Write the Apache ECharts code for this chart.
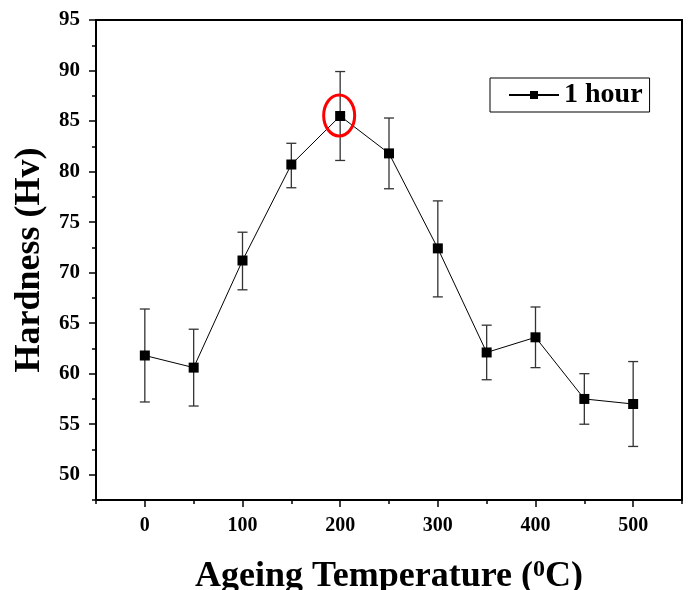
<!DOCTYPE html>
<html>
<head>
    <meta charset="utf-8">
    <title>Hardness vs Ageing Temperature</title>
    <script src="https://cdn.jsdelivr.net/npm/echarts@6/dist/echarts.min.js"></script>
    <style>
        body { margin: 0; background: #fff; }
    </style>
</head>
<body>
<div id="main" style="width: 689px;height:590px;"></div>
<script type="text/javascript">
    // data
    var temps = [0, 50, 100, 150, 200, 250, 300, 350, 400, 450, 500];
    var hardness = [61.8, 60.6, 71.2, 80.7, 85.5, 81.8, 72.4, 62.1, 63.6, 57.5, 57.0];
    var errLow = [57.2, 56.8, 68.3, 78.4, 81.1, 78.3, 67.6, 59.4, 60.6, 55.0, 52.8];
    var errHigh = [66.4, 64.4, 74.0, 82.8, 89.9, 85.3, 77.1, 64.8, 66.6, 60.0, 61.2];
    var xMajor = [0, 100, 200, 300, 400, 500];
    var yMajor = [50, 55, 60, 65, 70, 75, 80, 85, 90, 95];
    var seriesName = '1 hour';

    var font = "'Liberation Serif', 'Times New Roman', serif";

    var lineData = [], errData = [];
    for (var i = 0; i < temps.length; i++) {
        lineData.push([temps[i], hardness[i]]);
        errData.push([temps[i], errLow[i], errHigh[i]]);
    }
    // peak point gets the red ring
    var peak = hardness.indexOf(Math.max.apply(null, hardness));

    function renderErr(params, api) {
        var x = api.value(0);
        var lo = api.coord([x, api.value(1)]);
        var hi = api.coord([x, api.value(2)]);
        var w = 5;
        var st = {stroke: '#333', lineWidth: 1.3};
        return {
            type: 'group',
            children: [
                {type: 'line', shape: {x1: lo[0], y1: lo[1], x2: hi[0], y2: hi[1]}, style: st},
                {type: 'line', shape: {x1: lo[0] - w, y1: lo[1], x2: lo[0] + w, y2: lo[1]}, style: st},
                {type: 'line', shape: {x1: hi[0] - w, y1: hi[1], x2: hi[0] + w, y2: hi[1]}, style: st}
            ]
        };
    }

    function renderRing(params, api) {
        var p = api.coord([api.value(0), api.value(1)]);
        return {
            type: 'ellipse',
            shape: {cx: p[0] - 1, cy: p[1] - 0.5, rx: 15.5, ry: 20.5},
            style: {fill: 'none', stroke: '#ff0000', lineWidth: 3}
        };
    }

    var myChart = echarts.init(document.getElementById('main'));

    var option = {
        animation: false,
        backgroundColor: '#fff',
        grid: {
            left: 96, right: 7, top: 20, bottom: 90,
            show: true, borderColor: '#000', borderWidth: 2,
            outerBoundsMode: 'none'
        },
        legend: {
            data: [seriesName],
            left: 490, top: 78,
            padding: [3, 7, 3, 18],
            borderColor: '#000', borderWidth: 1,
            itemWidth: 50, itemHeight: 10,
            itemGap: 5,
            textStyle: {fontFamily: font, fontWeight: 'bold', fontSize: 28, color: '#000'}
        },
        xAxis: [
            {
                type: 'value', min: -50, max: 550, interval: 50,
                axisLine: {onZero: false, lineStyle: {color: '#000', width: 2}},
                axisTick: {length: 4, lineStyle: {color: '#000', width: 1.5}},
                splitLine: {show: false},
                axisLabel: {
                    margin: 16, color: '#000', fontFamily: font, fontWeight: 'bold', fontSize: 20,
                    formatter: function (v) { return (v >= 0 && v % 100 === 0) ? String(v) : ''; }
                },
                name: 'Ageing Temperature ({s|0}C)',
                nameLocation: 'middle',
                nameGap: 58,
                nameTextStyle: {
                    fontFamily: font, fontWeight: 'bold', fontSize: 36, color: '#000',
                    rich: {
                        s: {fontFamily: font, fontWeight: 'bold', fontSize: 24, color: '#000', verticalAlign: 'top', padding: [0, 0, 14, 0]}
                    }
                }
            },
            {
                type: 'value', min: -50, max: 550, position: 'bottom',
                axisLine: {show: false, onZero: false},
                axisTick: {customValues: xMajor, length: 7, lineStyle: {color: '#000', width: 1.5}},
                axisLabel: {show: false},
                splitLine: {show: false}
            }
        ],
        yAxis: [
            {
                type: 'value', min: 47.5, max: 95, interval: 2.5,
                axisLine: {onZero: false, lineStyle: {color: '#000', width: 2}},
                axisTick: {length: 4, lineStyle: {color: '#000', width: 1.5}},
                splitLine: {show: false},
                axisLabel: {
                    margin: 16, color: '#000', fontFamily: font, fontWeight: 'bold', fontSize: 21,
                    formatter: function (v) { return (v % 5 === 0) ? String(v) : ''; }
                },
                name: 'Hardness (Hv)',
                nameLocation: 'middle',
                nameGap: 46,
                nameTextStyle: {fontFamily: font, fontWeight: 'bold', fontSize: 36, color: '#000'}
            },
            {
                type: 'value', min: 47.5, max: 95, position: 'left',
                axisLine: {show: false, onZero: false},
                axisTick: {customValues: yMajor, length: 7, lineStyle: {color: '#000', width: 1.5}},
                axisLabel: {show: false},
                splitLine: {show: false}
            }
        ],
        series: [
            {
                name: 'err',
                type: 'custom',
                renderItem: renderErr,
                encode: {x: 0, y: [1, 2]},
                data: errData,
                z: 2,
                silent: true
            },
            {
                name: seriesName,
                type: 'line',
                data: lineData,
                symbol: 'rect',
                symbolSize: 10,
                itemStyle: {color: '#000'},
                lineStyle: {color: '#000', width: 1},
                z: 3
            },
            {
                name: 'peak',
                type: 'custom',
                renderItem: renderRing,
                data: [[temps[peak], hardness[peak]]],
                z: 4,
                silent: true
            }
        ]
    };

    myChart.setOption(option);
</script>
</body>
</html>
